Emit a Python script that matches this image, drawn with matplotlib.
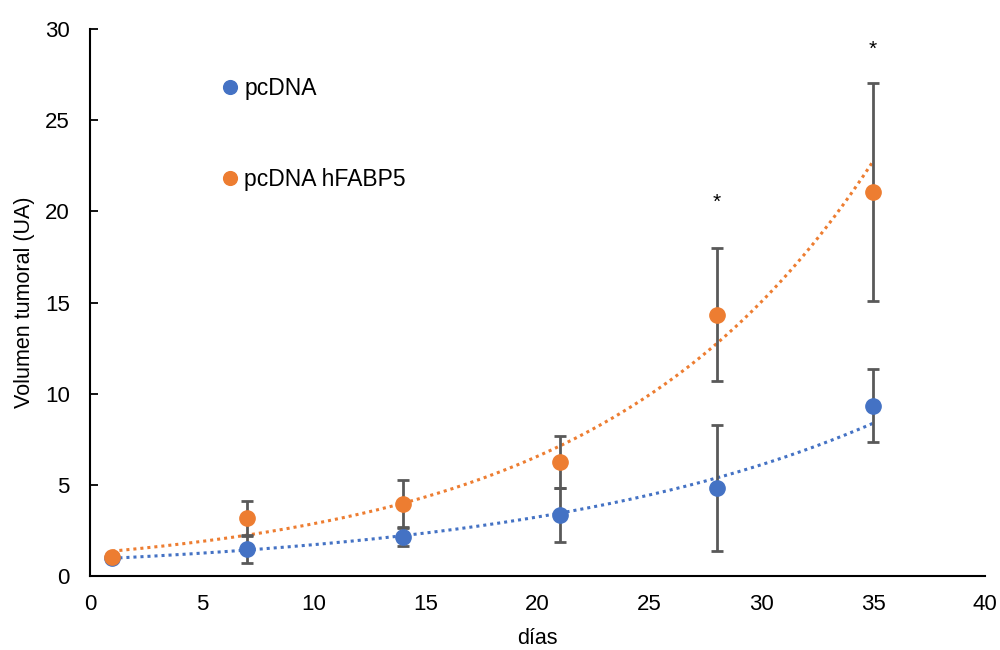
import numpy as np
import matplotlib
matplotlib.use("Agg")
import matplotlib.pyplot as plt

plt.rcParams['font.family'] = ['Liberation Sans', 'DejaVu Sans']

dias = [1, 7, 14, 21, 28, 35]
pcdna = [1.0, 1.45, 2.15, 3.35, 4.83, 9.33]
pcdna_err = [0.0, 0.75, 0.5, 1.48, 3.45, 2.0]
hfabp5 = [1.05, 3.18, 3.97, 6.27, 14.32, 21.07]
hfabp5_err = [0.0, 0.95, 1.3, 1.43, 3.65, 6.0]
sig_dias = [28, 35]
sig_y = [20.5, 28.9]

blue = '#4472C4'
orange = '#ED7D31'
grey = '#595959'

fig = plt.figure(figsize=(10, 6.5), dpi=100)
ax = fig.add_axes([0.09, 0.114, 0.895, 0.841])

def exp_trend(x, y):
    b, a = np.polyfit(x, np.log(y), 1)
    xs = np.linspace(min(x), max(x), 200)
    return xs, np.exp(a + b * xs)

for y, err, col, lab in [(pcdna, pcdna_err, blue, 'pcDNA'),
                         (hfabp5, hfabp5_err, orange, 'pcDNA hFABP5')]:
    xs, ys = exp_trend(dias, y)
    ax.plot(xs, ys, linestyle=(0, (1, 1.3)), color=col, lw=2.2, zorder=2)
    ax.errorbar(dias, y, yerr=err, fmt='none', ecolor=grey, elinewidth=2,
                capsize=4.5, capthick=2, zorder=3)
    ax.plot(dias, y, 'o', color=col, ms=11, zorder=4, label=lab)

for xd, yd in zip(sig_dias, sig_y):
    ax.text(xd, yd, '*', ha='center', va='center', fontsize=15)

ax.set_xlim(0, 40)
ax.set_ylim(0, 30)
ax.set_xticks(range(0, 41, 5))
ax.set_yticks(range(0, 31, 5))
ax.tick_params(axis='x', labelsize=16, length=0, pad=13)
ax.tick_params(axis='y', labelsize=16, direction='in', length=6, width=1.3, pad=14.5)
for s in ['top', 'right']:
    ax.spines[s].set_visible(False)
for s in ['left', 'bottom']:
    ax.spines[s].set_linewidth(1.5)
ax.set_xlabel('días', fontsize=15.5)
ax.set_ylabel('Volumen tumoral (UA)', fontsize=15.5)
ax.xaxis.set_label_coords(0.5, -0.095)
ax.yaxis.set_label_coords(-0.061, 0.5)

ax.legend(loc='upper left', bbox_to_anchor=(0.121, 0.95), frameon=False,
          fontsize=16.5, labelspacing=2.95, handletextpad=0.1, handlelength=1,
          markerscale=0.9)

fig.savefig('out.png', dpi=100)
